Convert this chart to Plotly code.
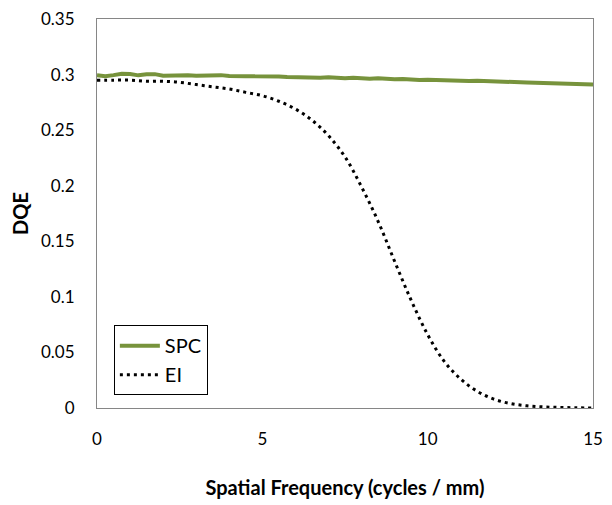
import plotly.graph_objects as go

freq_spc = [i * 0.25 for i in range(61)]
spc = [0.2995, 0.2985, 0.2995, 0.3008, 0.3005, 0.2993, 0.3002, 0.3004, 0.2990, 0.2993,
       0.2991, 0.2994, 0.2990, 0.2993, 0.2988, 0.2995, 0.2987, 0.2989, 0.2986, 0.2984,
       0.2985, 0.2978, 0.2983, 0.2979, 0.2975, 0.2978, 0.2976, 0.2972, 0.2975, 0.2969,
       0.2966, 0.2971, 0.2965, 0.2962, 0.2966, 0.2960, 0.2958, 0.2961, 0.2955, 0.2952,
       0.2954, 0.2950, 0.2947, 0.2949, 0.2944, 0.2942, 0.2944, 0.2940, 0.2937, 0.2935,
       0.2933, 0.2931, 0.2929, 0.2926, 0.2925, 0.2922, 0.2920, 0.2918, 0.2915, 0.2912,
       0.2910]

freq_ei = [0, 0.5, 1, 1.5, 2, 2.5, 3, 3.5, 4, 4.5, 5, 5.5, 6, 6.5, 7, 7.5, 8, 8.5, 9, 9.5,
           10, 10.5, 11, 11.5, 12, 12.5, 13, 13.5, 14, 14.5, 15]
ei = [0.295, 0.295, 0.295, 0.294, 0.294, 0.293, 0.291, 0.289, 0.287, 0.284,
      0.281, 0.276, 0.269, 0.259, 0.245, 0.226, 0.199, 0.168, 0.132, 0.097,
      0.066, 0.042, 0.026, 0.015, 0.008, 0.004, 0.002, 0.001, 0.0005, 0.0002, 0.0]

x_ticks = [0, 5, 10, 15]
y_ticks = [0, 0.05, 0.1, 0.15, 0.2, 0.25, 0.3, 0.35]
y_tick_text = ["0", "0.05", "0.1", "0.15", "0.2", "0.25", "0.3", "0.35"]

font = "Lato, 'Open Sans', sans-serif"

fig = go.Figure()
fig.add_trace(go.Scatter(x=freq_spc, y=spc, mode="lines", name="SPC",
                         line=dict(color="#77933C", width=4)))
fig.add_trace(go.Scatter(x=freq_ei, y=ei, mode="lines", name="EI", line_shape="spline",
                         line=dict(color="black", width=3, dash="3px,4px")))

fig.update_layout(
    width=604, height=497,
    margin=dict(l=89, r=19, t=11, b=97),
    paper_bgcolor="white", plot_bgcolor="white",
    font=dict(family=font, size=16, color="black"),
    showlegend=True,
    legend=dict(x=0.034, y=0.213, xanchor="left", yanchor="top",
                bordercolor="black", borderwidth=1, bgcolor="white",
                font=dict(size=20), tracegroupgap=0, itemwidth=40),
    xaxis=dict(range=[0, 15], tickvals=x_ticks, showgrid=False, zeroline=False,
               showline=True, linecolor="#868686", linewidth=1, mirror=True,
               ticks="outside", ticklen=16, tickcolor="rgba(0,0,0,0)",
               tickfont=dict(size=17), automargin=False, ticklabeloverflow="allow",
               title=dict(text="<b>Spatial Frequency (cycles / mm)</b>",
                          font=dict(size=20), standoff=32)),
    yaxis=dict(range=[0, 0.35], tickvals=y_ticks, ticktext=y_tick_text, showgrid=False,
               zeroline=False, showline=True, linecolor="#868686", linewidth=1,
               mirror=True, ticks="outside", ticklen=18, tickcolor="rgba(0,0,0,0)",
               tickfont=dict(size=17), automargin=False, ticklabeloverflow="allow",
               title=dict(text="<b>DQE</b>", font=dict(size=20), standoff=20)),
)

fig.write_html("out.html")
